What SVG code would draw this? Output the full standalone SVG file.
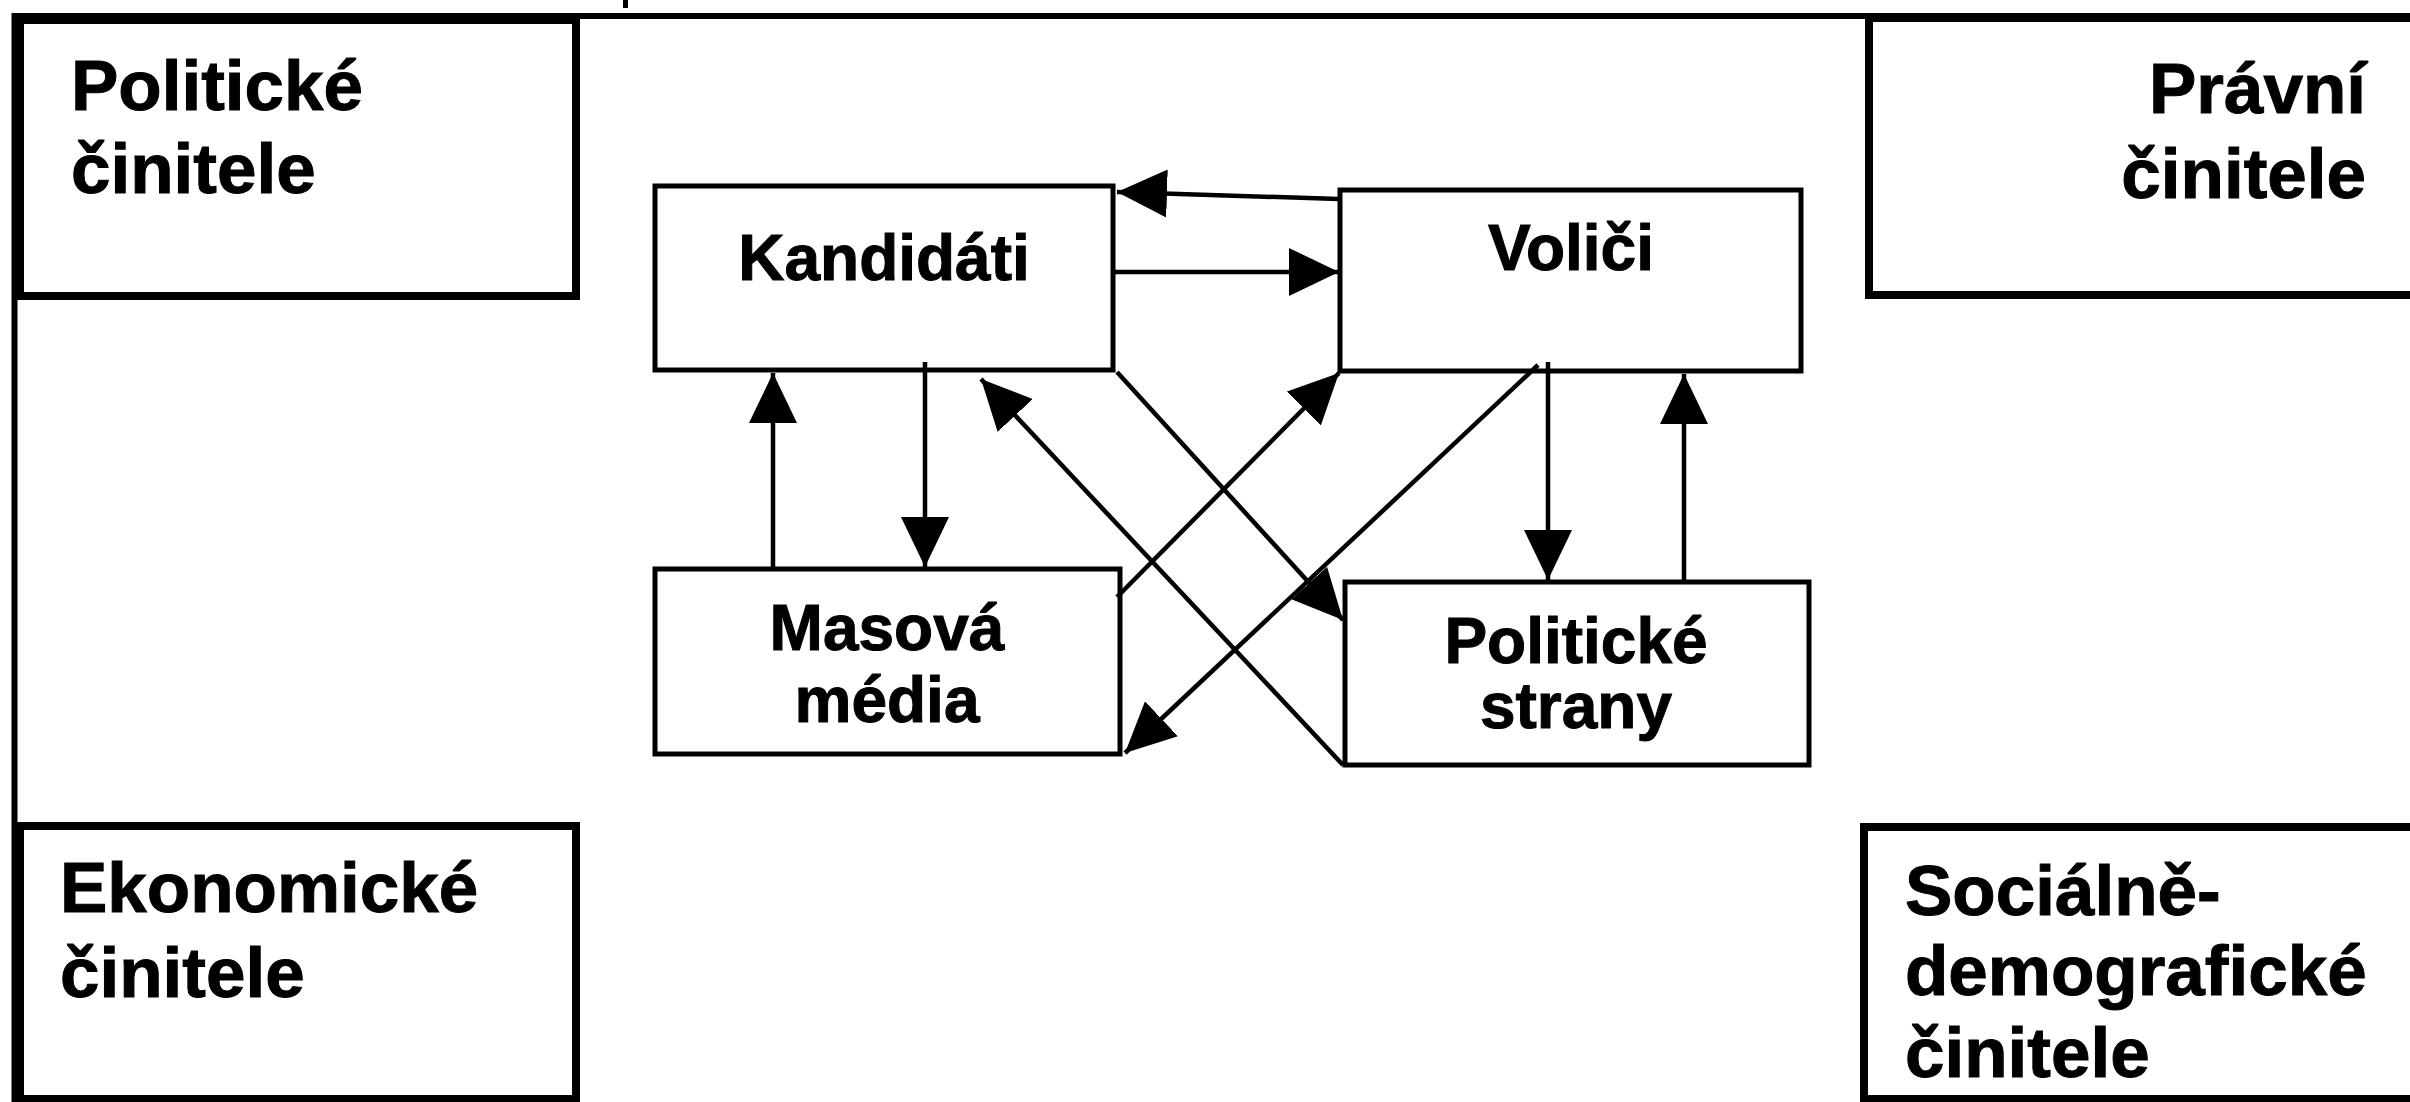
<svg xmlns="http://www.w3.org/2000/svg" width="2410" height="1102" viewBox="0 0 2410 1102">
<style>
.outer{fill:#fff;stroke:#000;stroke-width:8}
.inner{fill:#fff;stroke:#000;stroke-width:5}
.big{font-family:"Liberation Sans",Arial,sans-serif;font-weight:bold;font-size:71px;fill:#000;stroke:#000;stroke-width:1}
.mid{font-family:"Liberation Sans",Arial,sans-serif;font-weight:bold;font-size:64px;fill:#000;stroke:#000;stroke-width:1;text-anchor:middle}
.conn{stroke:#000;stroke-width:4.5;fill:none;marker-end:url(#ah)}
</style>
<defs>
<marker id="ah" markerUnits="userSpaceOnUse" markerWidth="50" markerHeight="48" refX="50" refY="24" orient="auto" viewBox="0 0 50 48">
<path d="M0,0 L50,24 L0,48 z" fill="#000"/>
</marker>
</defs>
<rect x="0" y="0" width="2410" height="1102" fill="#fff"/>
<rect x="623" y="0" width="5" height="8" fill="#000"/>
<g id="frame">
<path d="M14.5,1110 L14.5,16 L2420,16" fill="none" stroke="#000" stroke-width="6"/>
</g>
<g id="politicke-cinitele">
<rect class="outer" x="20" y="20" width="556" height="276"/>
<text class="big" x="71" y="110">Politické</text>
<text class="big" x="71" y="193">činitele</text>
</g>
<g id="pravni-cinitele">
<rect class="outer" x="1869" y="18" width="600" height="277"/>
<text class="big" x="2366" y="113" text-anchor="end">Právní</text>
<text class="big" x="2366" y="198" text-anchor="end">činitele</text>
</g>
<g id="ekonomicke-cinitele">
<rect class="outer" x="20" y="826" width="556" height="273"/>
<text class="big" x="60" y="912">Ekonomické</text>
<text class="big" x="60" y="997">činitele</text>
</g>
<g id="socialne-demograficke-cinitele">
<rect class="outer" x="1864" y="827" width="600" height="272"/>
<text class="big" x="1905" y="915">Sociálně-</text>
<text class="big" x="1905" y="995">demografické</text>
<text class="big" x="1905" y="1077">činitele</text>
</g>
<g id="kandidati">
<rect class="inner" x="655" y="186" width="458" height="184"/>
<text class="mid" x="884" y="280">Kandidáti</text>
</g>
<g id="volici">
<rect class="inner" x="1340" y="190" width="461" height="181"/>
<text class="mid" x="1571" y="270">Voliči</text>
</g>
<g id="masova-media">
<rect class="inner" x="655" y="569" width="465" height="185"/>
<text class="mid" x="887" y="650">Masová</text>
<text class="mid" x="887" y="722">média</text>
</g>
<g id="politicke-strany">
<rect class="inner" x="1345" y="582" width="464" height="183"/>
<text class="mid" x="1576" y="663">Politické</text>
<text class="mid" x="1576" y="728">strany</text>
</g>
<g id="connectors">
<path class="conn" d="M1339,199 L1117,192"/>
<path class="conn" d="M1114,272 L1339,272"/>
<path class="conn" d="M773,567 L773,373"/>
<path class="conn" d="M925,362 L925,567"/>
<path class="conn" d="M1343,765 L981,379"/>
<path class="conn" d="M1117,372 L1343,620"/>
<path class="conn" d="M1117,597 L1339,373"/>
<path class="conn" d="M1538,365 L1125,753"/>
<path class="conn" d="M1548,362 L1548,580"/>
<path class="conn" d="M1684,580 L1684,374"/>
</g>
</svg>
